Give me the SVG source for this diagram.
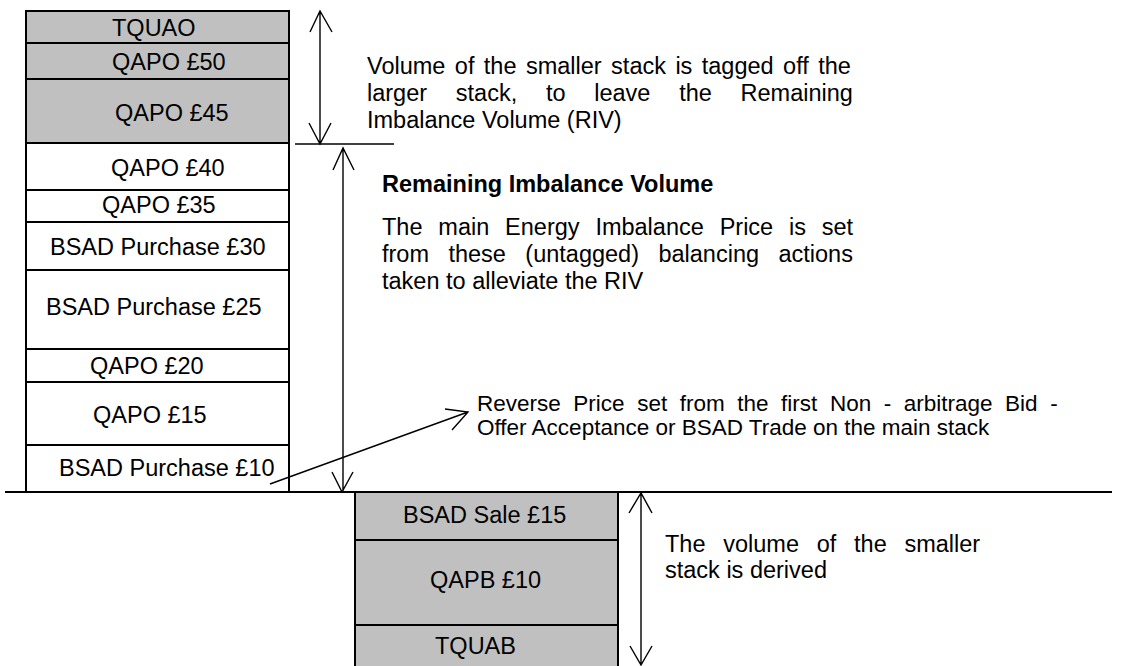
<svg xmlns="http://www.w3.org/2000/svg" width="1126" height="666" viewBox="0 0 1126 666">
<style>
text{font-family:"Liberation Sans",Arial,sans-serif;font-size:23.5px;fill:#000}
.b{font-weight:bold}
.s{font-size:22.5px}
.g{fill:#c0c0c0;stroke:#000;stroke-width:2}
.w{fill:#fff;stroke:#000;stroke-width:2}
.ln{stroke:#000;stroke-width:1.4;fill:none}
.ax{stroke:#000;stroke-width:2;fill:none}
</style>
<rect width="1126" height="666" fill="#fff"/>
<g id="stack-upper">
<g id="tquao"><rect class="g" x="26" y="11" width="263" height="32"/><text x="112" y="36">TQUAO</text></g>
<g id="qapo50"><rect class="g" x="26" y="43" width="263" height="36"/><text x="112" y="70">QAPO £50</text></g>
<g id="qapo45"><rect class="g" x="26" y="79" width="263" height="64"/><text x="115" y="121">QAPO £45</text></g>
<g id="qapo40"><rect class="w" x="26" y="143" width="263" height="47"/><text x="111" y="176">QAPO £40</text></g>
<g id="qapo35"><rect class="w" x="26" y="190" width="263" height="32"/><text x="102" y="213">QAPO £35</text></g>
<g id="bsad30"><rect class="w" x="26" y="222" width="263" height="48"/><text x="50" y="255">BSAD Purchase £30</text></g>
<g id="bsad25"><rect class="w" x="26" y="270" width="263" height="79"/><text x="46" y="315">BSAD Purchase £25</text></g>
<g id="qapo20"><rect class="w" x="26" y="349" width="263" height="33"/><text x="90" y="374">QAPO £20</text></g>
<g id="qapo15"><rect class="w" x="26" y="382" width="263" height="63"/><text x="93" y="423">QAPO £15</text></g>
<g id="bsad10"><rect class="w" x="26" y="445" width="263" height="47"/><text x="59" y="476">BSAD Purchase £10</text></g>
</g>
<g id="stack-lower">
<g id="bsadsale15"><rect class="g" x="355" y="492" width="263" height="48"/><text x="403" y="523">BSAD Sale £15</text></g>
<g id="qapb10"><rect class="g" x="355" y="540" width="263" height="85"/><text x="430" y="588">QAPB £10</text></g>
<g id="tquab"><rect class="g" x="355" y="625" width="263" height="45"/><text x="435" y="654">TQUAB</text></g>
</g>
<g id="connectors">
<line class="ax" x1="5" y1="492" x2="1112" y2="492"/>
<line class="ln" x1="295" y1="144" x2="394" y2="144"/>
<path class="ln" d="M320 11V144M310 32L320 11L332 32M309 123L320 144L331 123"/>
<path class="ln" d="M343 148V492M333 170L343 148L354 170M332 472L342 492L353 472"/>
<path class="ln" d="M641 492V665M629 513L641 493L652 513M630 646L641 665L652 646"/>
<path class="ln" d="M270 484L468 412M445 409L468 412L452 430"/>
</g>
<g id="notes">
<text x="367" y="74" style="word-spacing:2.9px">Volume of the smaller stack is tagged off the</text>
<text x="367" y="101" style="word-spacing:22.2px">larger stack, to leave the Remaining</text>
<text x="367" y="128">Imbalance Volume (RIV)</text>
<text class="b" x="382" y="192">Remaining Imbalance Volume</text>
<text x="382" y="235" style="word-spacing:9.3px">The main Energy Imbalance Price is set</text>
<text x="382" y="262" style="word-spacing:12.9px">from these (untagged) balancing actions</text>
<text x="382" y="289">taken to alleviate the RIV</text>
<text class="s" x="477" y="411" style="word-spacing:6.3px">Reverse Price set from the first Non - arbitrage Bid -</text>
<text class="s" x="477" y="435">Offer Acceptance or BSAD Trade on the main stack</text>
<text x="665" y="552" style="word-spacing:11.2px">The volume of the smaller</text>
<text x="665" y="578">stack is derived</text>
</g>
</svg>
